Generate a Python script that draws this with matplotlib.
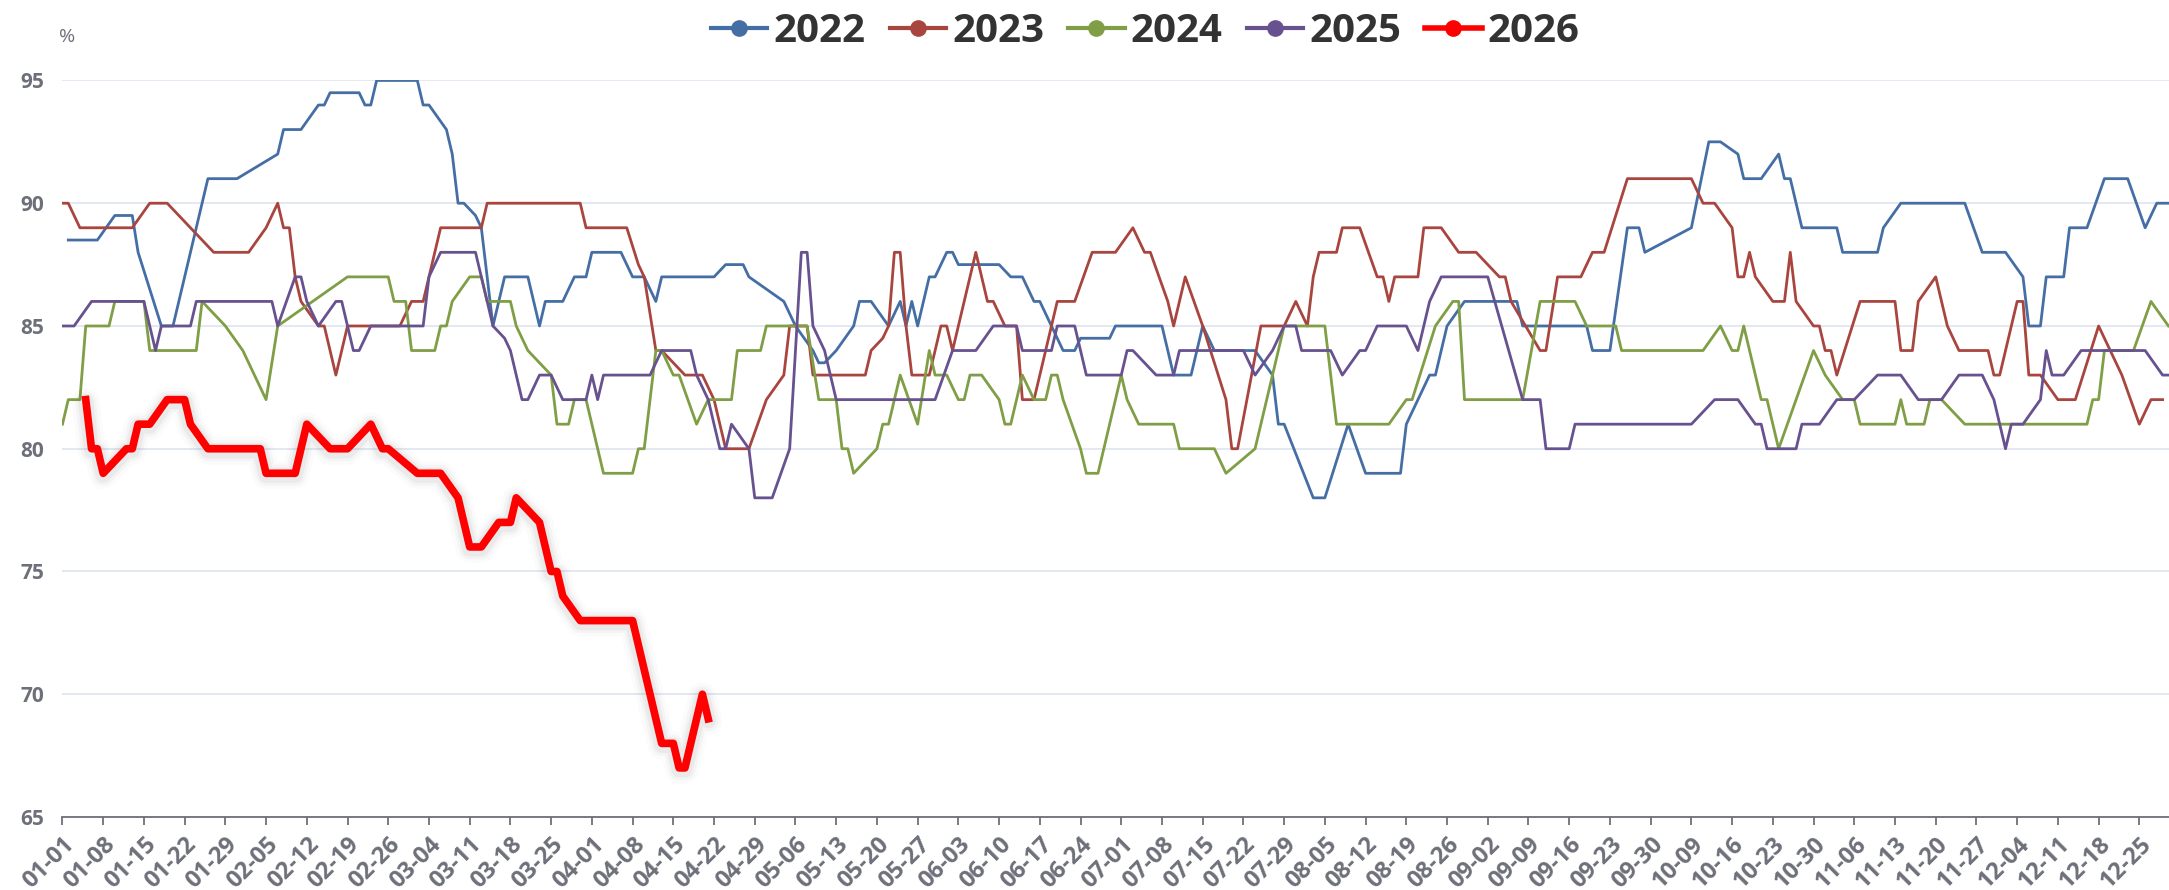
import matplotlib
matplotlib.use("Agg")
import matplotlib.pyplot as plt
from matplotlib.lines import Line2D

plt.rcParams['font.family'] = ['Open Sans', 'DejaVu Sans']

# x = day index on a 366-day calendar axis (01-01 = 0), y = percent
x22 = [1, 6, 9, 12, 13, 17, 19, 25, 30, 37, 38, 41, 44, 45, 46, 51, 52, 53, 54, 61, 62, 63, 66, 67, 68, 69,
       71, 72, 74, 76, 80, 82, 83, 86, 88, 90, 91, 96, 98, 100, 102, 103, 112, 114, 117, 118, 124, 126, 129,
       130, 131, 133, 136, 137, 139, 142, 144, 145, 146, 147, 149, 150, 152, 153, 154, 161, 163, 165, 167,
       168, 170, 172, 174, 175, 180, 181, 189, 191, 194, 196, 198, 205, 208, 209, 210, 215, 217, 221, 224,
       230, 231, 233, 235, 236, 238, 241, 250, 251, 262, 263, 266, 269, 271, 272, 280, 283, 285, 288, 289,
       292, 295, 296, 297, 299, 305, 306, 312, 313, 316, 327, 330, 334, 337, 338, 340, 341, 344, 345, 348,
       351, 355, 358, 360, 362]
y22 = [88.5, 88.5, 89.5, 89.5, 88, 85, 85, 91, 91, 92, 93, 93, 94, 94, 94.5, 94.5, 94, 94, 95, 95, 94, 94, 93,
       92, 90, 90, 89.5, 89, 85, 87, 87, 85, 86, 86, 87, 87, 88, 88, 87, 87, 86, 87, 87, 87.5, 87.5, 87, 86,
       85, 84, 83.5, 83.5, 84, 85, 86, 86, 85, 86, 85, 86, 85, 87, 87, 88, 88, 87.5, 87.5, 87, 87, 86, 86,
       85, 84, 84, 84.5, 84.5, 85, 85, 83, 83, 85, 84, 84, 83, 81, 81, 78, 78, 81, 79, 79, 81, 82, 83, 83,
       85, 86, 86, 85, 85, 84, 84, 89, 89, 88, 89, 92.5, 92.5, 92, 91, 91, 92, 91, 91, 89, 89, 88, 88, 89,
       90, 90, 88, 88, 87, 85, 85, 87, 87, 89, 89, 91, 91, 89, 90, 90]

x23 = [0, 1, 3, 12, 15, 18, 26, 32, 35, 37, 38, 39, 40, 41, 44, 45, 47, 49, 58, 60, 62, 64, 65, 72, 73, 89,
       90, 97, 99, 100, 102, 103, 107, 110, 112, 114, 118, 121, 124, 125, 128, 129, 138, 139, 141, 142, 143,
       144, 145, 146, 149, 151, 152, 153, 157, 159, 160, 162, 164, 165, 167, 168, 171, 174, 177, 181, 184,
       186, 187, 190, 191, 193, 196, 200, 201, 202, 206, 210, 212, 214, 215, 216, 219, 220, 223, 226, 227,
       228, 229, 233, 234, 237, 240, 243, 247, 248, 249, 254, 255, 257, 261, 263, 265, 269, 280, 282, 284,
       287, 288, 289, 290, 291, 294, 296, 297, 298, 301, 302, 303, 304, 305, 309, 315, 316, 318, 319, 322,
       324, 326, 331, 332, 333, 336, 337, 338, 340, 343, 346, 350, 354, 357, 359, 361]
y23 = [90, 90, 89, 89, 90, 90, 88, 88, 89, 90, 89, 89, 87, 86, 85, 85, 83, 85, 85, 86, 86, 88, 89, 89, 90, 90,
       89, 89, 87.5, 87, 84, 84, 83, 83, 82, 80, 80, 82, 83, 85, 85, 83, 83, 84, 84.5, 85, 88, 88, 85, 83, 83,
       85, 85, 84, 88, 86, 86, 85, 85, 82, 82, 83, 86, 86, 88, 88, 89, 88, 88, 86, 85, 87, 85, 82, 80, 80,
       85, 85, 86, 85, 87, 88, 88, 89, 89, 87, 87, 86, 87, 87, 89, 89, 88, 88, 87, 87, 86, 84, 84, 87, 87,
       88, 88, 91, 91, 90, 90, 89, 87, 87, 88, 87, 86, 86, 88, 86, 85, 85, 84, 84, 83, 86, 86, 84, 84, 86,
       87, 85, 84, 84, 83, 83, 86, 86, 83, 83, 82, 82, 85, 83, 81, 82, 82]

x24 = [0, 1, 3, 4, 8, 9, 14, 15, 23, 24, 28, 31, 35, 37, 49, 56, 57, 59, 60, 64, 65, 66, 67, 70, 72, 73, 77,
       78, 80, 84, 85, 87, 88, 90, 91, 93, 98, 99, 100, 102, 103, 105, 106, 109, 111, 115, 116, 120, 121, 128,
       130, 133, 134, 135, 136, 140, 141, 142, 144, 147, 149, 150, 152, 154, 155, 156, 158, 161, 162, 163,
       165, 167, 169, 170, 171, 172, 175, 176, 178, 182, 183, 185, 191, 192, 198, 200, 205, 208, 210, 217,
       219, 228, 231, 232, 236, 239, 240, 241, 251, 254, 260, 262, 267, 268, 282, 285, 287, 288, 289, 292,
       293, 295, 301, 303, 306, 308, 309, 315, 316, 317, 320, 321, 323, 327, 348, 349, 350, 351, 356, 359, 362]
y24 = [81, 82, 82, 85, 85, 86, 86, 84, 84, 86, 85, 84, 82, 85, 87, 87, 86, 86, 84, 84, 85, 85, 86, 87, 87, 86,
       86, 85, 84, 83, 81, 81, 82, 82, 81, 79, 79, 80, 80, 84, 84, 83, 83, 81, 82, 82, 84, 84, 85, 85, 82, 82,
       80, 80, 79, 80, 81, 81, 83, 81, 84, 83, 83, 82, 82, 83, 83, 82, 81, 81, 83, 82, 82, 83, 83, 82, 80, 79,
       79, 83, 82, 81, 81, 80, 80, 79, 80, 83, 85, 85, 81, 81, 82, 82, 85, 86, 86, 82, 82, 86, 86, 85, 85, 84,
       84, 85, 84, 84, 85, 82, 82, 80, 84, 83, 82, 82, 81, 81, 82, 81, 81, 82, 82, 81, 81, 82, 82, 84, 84, 86,
       85]

x25 = [0, 2, 5, 14, 16, 17, 22, 23, 36, 37, 40, 41, 42, 44, 47, 48, 50, 51, 53, 62, 63, 65, 71, 73, 74, 76,
       77, 79, 80, 82, 84, 86, 90, 91, 92, 93, 101, 103, 108, 109, 111, 113, 114, 115, 118, 119, 122, 125,
       127, 128, 129, 131, 133, 150, 153, 157, 160, 164, 165, 170, 171, 174, 176, 182, 183, 184, 188, 191,
       192, 203, 205, 208, 210, 212, 213, 218, 220, 223, 224, 226, 231, 233, 235, 237, 245, 251, 254, 255,
       259, 260, 280, 284, 288, 291, 292, 293, 298, 299, 302, 305, 308, 312, 316, 319, 323, 326, 330, 332,
       334, 335, 337, 340, 341, 342, 344, 347, 358, 361, 362]
y25 = [85, 85, 86, 86, 84, 85, 85, 86, 86, 85, 87, 87, 86, 85, 86, 86, 84, 84, 85, 85, 87, 88, 88, 86, 85,
       84.5, 84, 82, 82, 83, 83, 82, 82, 83, 82, 83, 83, 84, 84, 83, 82, 80, 80, 81, 80, 78, 78, 80, 88, 88,
       85, 84, 82, 82, 84, 84, 85, 85, 84, 84, 85, 85, 83, 83, 84, 84, 83, 83, 84, 84, 83, 84, 85, 85, 84,
       84, 83, 84, 84, 85, 85, 84, 86, 87, 87, 82, 82, 80, 80, 81, 81, 82, 82, 81, 81, 80, 80, 81, 81, 82,
       82, 83, 83, 82, 82, 83, 83, 82, 80, 81, 81, 82, 84, 83, 83, 84, 84, 83, 83]

x26 = [4, 5, 6, 7, 11, 12, 13, 15, 18, 21, 22, 25, 34, 35, 40, 42, 46, 49, 53, 55, 56, 61, 65, 68, 70, 72,
       75, 77, 78, 82, 84, 85, 86, 89, 98, 99, 103, 105, 106, 107, 110, 111]
y26 = [82, 80, 80, 79, 80, 80, 81, 81, 82, 82, 81, 80, 80, 79, 79, 81, 80, 80, 81, 80, 80, 79, 79, 78, 76, 76,
       77, 77, 78, 77, 75, 75, 74, 73, 73, 72, 68, 68, 67, 67, 70, 69]

years = ['2022', '2023', '2024', '2025', '2026']
colors = ['#456ea5', '#a9453f', '#7f9e45', '#67518f', '#ff0000']

tick_labels = ['01-01', '01-08', '01-15', '01-22', '01-29', '02-05', '02-12', '02-19', '02-26', '03-04',
               '03-11', '03-18', '03-25', '04-01', '04-08', '04-15', '04-22', '04-29', '05-06', '05-13',
               '05-20', '05-27', '06-03', '06-10', '06-17', '06-24', '07-01', '07-08', '07-15', '07-22',
               '07-29', '08-05', '08-12', '08-19', '08-26', '09-02', '09-09', '09-16', '09-23', '09-30',
               '10-09', '10-16', '10-23', '10-30', '11-06', '11-13', '11-20', '11-27', '12-04', '12-11',
               '12-18', '12-25']

fig = plt.figure(figsize=(21.69, 8.90), dpi=100)
ax = fig.add_axes([0.0288, 0.082, 0.9712, 0.8276])

series = [(x22, y22), (x23, y23), (x24, y24), (x25, y25)]
for (xs, ys), c in zip(series, colors[:4]):
    ax.plot(xs, ys, color=c, lw=2.0, solid_joinstyle='round', zorder=3)

# soft shadow under the 2026 line
for w, a in [(20, 0.025), (15, 0.04), (11, 0.06)]:
    ax.plot(x26, [v - 0.08 for v in y26], color='#555555', lw=w, alpha=a,
            solid_joinstyle='round', solid_capstyle='round', zorder=4)
ax.plot(x26, y26, color=colors[4], lw=5.5, solid_joinstyle='round', zorder=5)

ax.set_xlim(0, 362.1)
ax.set_ylim(65, 95)
ax.set_yticks([65, 70, 75, 80, 85, 90, 95])
ax.set_xticks([7 * i for i in range(len(tick_labels))])
ax.set_xticklabels(tick_labels, rotation=45, ha='right', va='top', rotation_mode='anchor')

ax.grid(axis='y', color='#e0e6f1', lw=1.3)
ax.set_axisbelow(True)
for s in ['top', 'right', 'left']:
    ax.spines[s].set_visible(False)
ax.spines['bottom'].set_color('#6e7079')
ax.spines['bottom'].set_linewidth(1.3)
ax.tick_params(axis='y', length=0, pad=13, labelsize=15, labelcolor='#6e7079')
ax.tick_params(axis='x', length=6, width=1.3, color='#6e7079', pad=5, labelsize=17, labelcolor='#6e7079')
for lab in ax.get_xticklabels() + ax.get_yticklabels():
    lab.set_fontweight('bold')

fig.text(0.0272, 0.958, '%', color='#6e7079', fontsize=14, ha='left', va='center')

handles = [Line2D([], [], color=c, lw=3 if y != '2026' else 4, marker='o', markersize=11) for y, c in zip(years, colors)]
leg = fig.legend(handles, years, loc='center', bbox_to_anchor=(0.528, 0.965), ncol=5, frameon=False,
                 prop={'size': 29, 'weight': 'bold'}, handlelength=1.4, handletextpad=0.15,
                 columnspacing=0.6, labelcolor='#333333')

fig.savefig('out.png', dpi=100)
